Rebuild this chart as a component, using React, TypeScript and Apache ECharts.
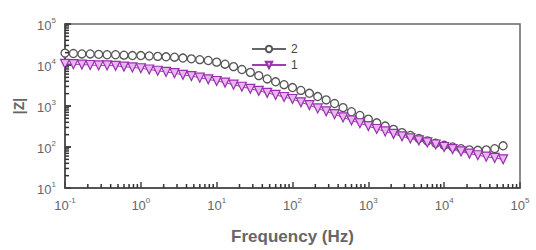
import React, { useEffect, useRef } from "react";
import * as echarts from "echarts";

const frequencies = [
  0.1, 0.129, 0.167, 0.215, 0.278, 0.359, 0.464, 0.599, 0.774,
  1, 1.29, 1.67, 2.15, 2.78, 3.59, 4.64, 5.99, 7.74,
  10, 12.9, 16.7, 21.5, 27.8, 35.9, 46.4, 59.9, 77.4,
  100, 129, 167, 215, 278, 359, 464, 599, 774,
  1000, 1290, 1670, 2150, 2780, 3590, 4640, 5990, 7740,
  10000, 12900, 16700, 21500, 27800, 35900, 46400, 59900,
];

const series2 = [
  19500, 19050, 18620, 18620, 18200, 17780, 17780, 17380, 16980,
  16980, 16600, 16220, 15850, 15490, 14790, 14130, 13490, 12880,
  11750, 10470, 9120, 7760, 6610, 5500, 4570, 3890, 3310,
  2820, 2400, 2040, 1700, 1410, 1150, 912, 724, 589,
  479, 389, 324, 269, 224, 191, 162, 141, 123,
  110, 100, 91, 85, 83, 85, 91, 107,
];

const series1 = [
  10700, 10470, 10230, 10000, 9770, 9770, 9550, 9120, 8710,
  8320, 7760, 7240, 6760, 6310, 5750, 5370, 4900, 4470,
  4070, 3720, 3310, 2950, 2630, 2340, 2090, 1860, 1660,
  1480, 1230, 1050, 871, 741, 631, 525, 447, 380,
  324, 275, 240, 209, 182, 162, 145, 129, 115,
  100, 89, 78, 69, 63, 58, 54, 50,
];

const seriesNames = ["2", "1"];
const xDecades = [0.1, 1, 10, 100, 1000, 10000];
const yDecades = [10, 100, 1000, 10000];
const minorMultipliers = [2, 3, 4, 5, 6, 7, 8, 9];

const FONT = "Liberation Sans, Arial, sans-serif";
const LABEL_COLOR = "#666";
const AXIS_COLOR = "#444";

function supLabel(v: number) {
  const e = Math.round(Math.log10(v));
  return `{b|10}{e|${e}}`;
}

const richLabel = {
  b: { fontSize: 13, lineHeight: 16, color: LABEL_COLOR, fontFamily: FONT, verticalAlign: "bottom" },
  e: { fontSize: 8, lineHeight: 9, color: LABEL_COLOR, fontFamily: FONT, verticalAlign: "top" },
};

export default function App() {
  const ref = useRef<HTMLDivElement>(null);
  useEffect(() => {
    if (!ref.current) return;
    const chart = echarts.init(ref.current, undefined, { renderer: "svg" });
    const xMinor: number[][] = [];
    xDecades.forEach((d) => minorMultipliers.forEach((m) => xMinor.push([d * m, 10])));
    const yMinor: number[][] = [];
    yDecades.forEach((d) => minorMultipliers.forEach((m) => yMinor.push([0.1, d * m])));

    chart.setOption({
      animation: false,
      backgroundColor: "#fff",
      grid: {
        left: 65,
        right: 16,
        top: 24,
        bottom: 62,
        show: true,
        borderColor: "#666",
        borderWidth: 1.5,
        backgroundColor: "transparent",
      },
      legend: {
        data: seriesNames,
        orient: "vertical",
        left: 246,
        top: 38,
        itemWidth: 34,
        itemHeight: 8,
        itemGap: 4,
        textStyle: { fontSize: 12, color: "#444", fontFamily: FONT },
      },
      xAxis: {
        type: "log",
        logBase: 10,
        min: 0.1,
        max: 100000,
        name: "Frequency (Hz)",
        nameLocation: "middle",
        nameGap: 40,
        nameTextStyle: { fontSize: 17, fontWeight: "bold", color: "#666", fontFamily: FONT },
        axisLine: { show: true, lineStyle: { color: AXIS_COLOR, width: 1.5 } },
        axisTick: { show: true, inside: true, length: 6, lineStyle: { color: AXIS_COLOR, width: 1.5 } },
        axisLabel: { margin: 8, formatter: supLabel, rich: richLabel },
        splitLine: { show: false },
      },
      yAxis: {
        type: "log",
        logBase: 10,
        min: 10,
        max: 100000,
        name: "|Z|",
        nameLocation: "middle",
        nameRotate: 90,
        nameGap: 30,
        nameTextStyle: { fontSize: 14, fontWeight: "bold", color: "#666", fontFamily: FONT },
        axisLine: { show: true, lineStyle: { color: AXIS_COLOR, width: 1.5 } },
        axisTick: { show: true, inside: true, length: 6, lineStyle: { color: AXIS_COLOR, width: 2 } },
        axisLabel: { margin: 9, formatter: supLabel, rich: richLabel },
        splitLine: { show: false },
      },
      series: [
        {
          name: "2",
          type: "line",
          data: frequencies.map((f, i) => [f, series2[i]]),
          symbol: "circle",
          symbolSize: 8,
          showAllSymbol: true,
          lineStyle: { color: "#666", width: 1 },
          itemStyle: { color: "#fff", borderColor: "#555", borderWidth: 1.3 },
          z: 3,
        },
        {
          name: "1",
          type: "line",
          data: frequencies.map((f, i) => [f, series1[i]]),
          symbol: "triangle",
          symbolRotate: 180,
          symbolSize: 9,
          showAllSymbol: true,
          lineStyle: { color: "#a23ab5", width: 1 },
          itemStyle: { color: "#e8b6f0", borderColor: "#9a2fae", borderWidth: 1.2 },
          z: 4,
        },
        {
          type: "custom",
          coordinateSystem: "cartesian2d",
          silent: true,
          clip: false,
          data: xMinor,
          encode: { x: 0, y: 1 },
          z: 6,
          renderItem: (params: any, api: any) => {
            const p = api.coord([api.value(0), api.value(1)]);
            return {
              type: "line",
              shape: { x1: p[0], y1: p[1], x2: p[0], y2: p[1] - 4 },
              style: { stroke: "#333", lineWidth: 1.5 },
            };
          },
        },
        {
          type: "custom",
          coordinateSystem: "cartesian2d",
          silent: true,
          clip: false,
          data: yMinor,
          encode: { x: 0, y: 1 },
          z: 6,
          renderItem: (params: any, api: any) => {
            const p = api.coord([api.value(0), api.value(1)]);
            return {
              type: "line",
              shape: { x1: p[0], y1: p[1], x2: p[0] + 4, y2: p[1] },
              style: { stroke: "#333", lineWidth: 1.5 },
            };
          },
        },
      ],
    });
    return () => chart.dispose();
  }, []);
  return <div ref={ref} style={{ width: 536, height: 250, position: "absolute", left: 0, top: 0 }} />;
}
